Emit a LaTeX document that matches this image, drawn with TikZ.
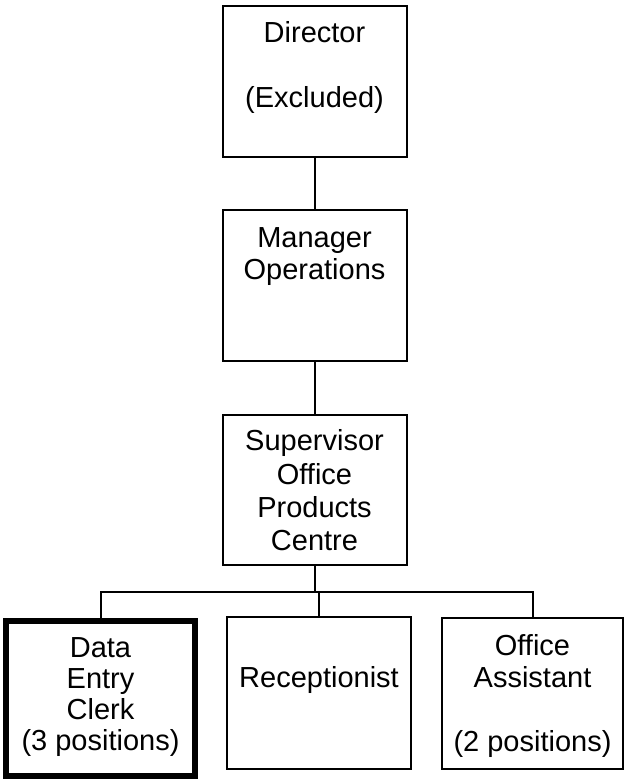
\documentclass[tikz,border=0pt]{standalone}
\usepackage{fontspec}
\setmainfont{Liberation Sans}
\begin{document}
\begin{tikzpicture}[x=1pt,y=-1pt,
  box/.style={draw=black, line width=2pt, rectangle, inner sep=0pt, fill=white},
  txt/.style={anchor=north, align=center, inner sep=0pt,
    font=\fontsize{29}{32}\selectfont},
  conn/.style={draw=black, line width=2pt}]
\useasboundingbox (0,0) rectangle (626,779);
\fill[white] (0,0) rectangle (626,779);
\node[box, minimum width=184pt, minimum height=151pt] (dir) at (314.5,81.5) {};
\node[box, minimum width=184pt, minimum height=151pt] (man) at (314.5,285.5) {};
\node[box, minimum width=184pt, minimum height=150pt] (sup) at (314.5,490) {};
\node[box, line width=6pt, minimum width=189pt, minimum height=155pt] (dat) at (100.5,698) {};
\node[box, minimum width=184pt, minimum height=152pt] (rec) at (319,693) {};
\node[box, minimum width=181pt, minimum height=151pt] (off) at (532.5,693.5) {};
\coordinate (bus) at (314.5,592);
\draw[conn] (dir.south) -- (man.north);
\draw[conn] (man.south) -- (sup.north);
\draw[conn] (sup.south) -- (bus);
\draw[conn] (dat.north) |- (bus);
\draw[conn] (rec.north) |- (bus);
\draw[conn] (off.north) |- (bus);
\node[txt] (tdir) at ([yshift=-16pt]dir.north) {Director\\[33pt](Excluded)};
\node[txt] (tman) at ([yshift=-18pt]man.north) {Manager\\Operations};
\node[txt] (tsup) at ([yshift=-15pt]sup.north) {Supervisor\\[2pt]Office\\[1pt]Products\\[1pt]Centre};
\node[txt] (tdat) at ([yshift=-20pt]dat.north) {Data\\[-1pt]Entry\\[-1pt]Clerk\\[-1pt](3 positions)};
\node[txt] (trec) at ([yshift=-50pt]rec.north) {Receptionist};
\node[txt] (toff) at ([yshift=-17pt]off.north) {Office\\Assistant\\[32pt](2 positions)};
\end{tikzpicture}
\end{document}
